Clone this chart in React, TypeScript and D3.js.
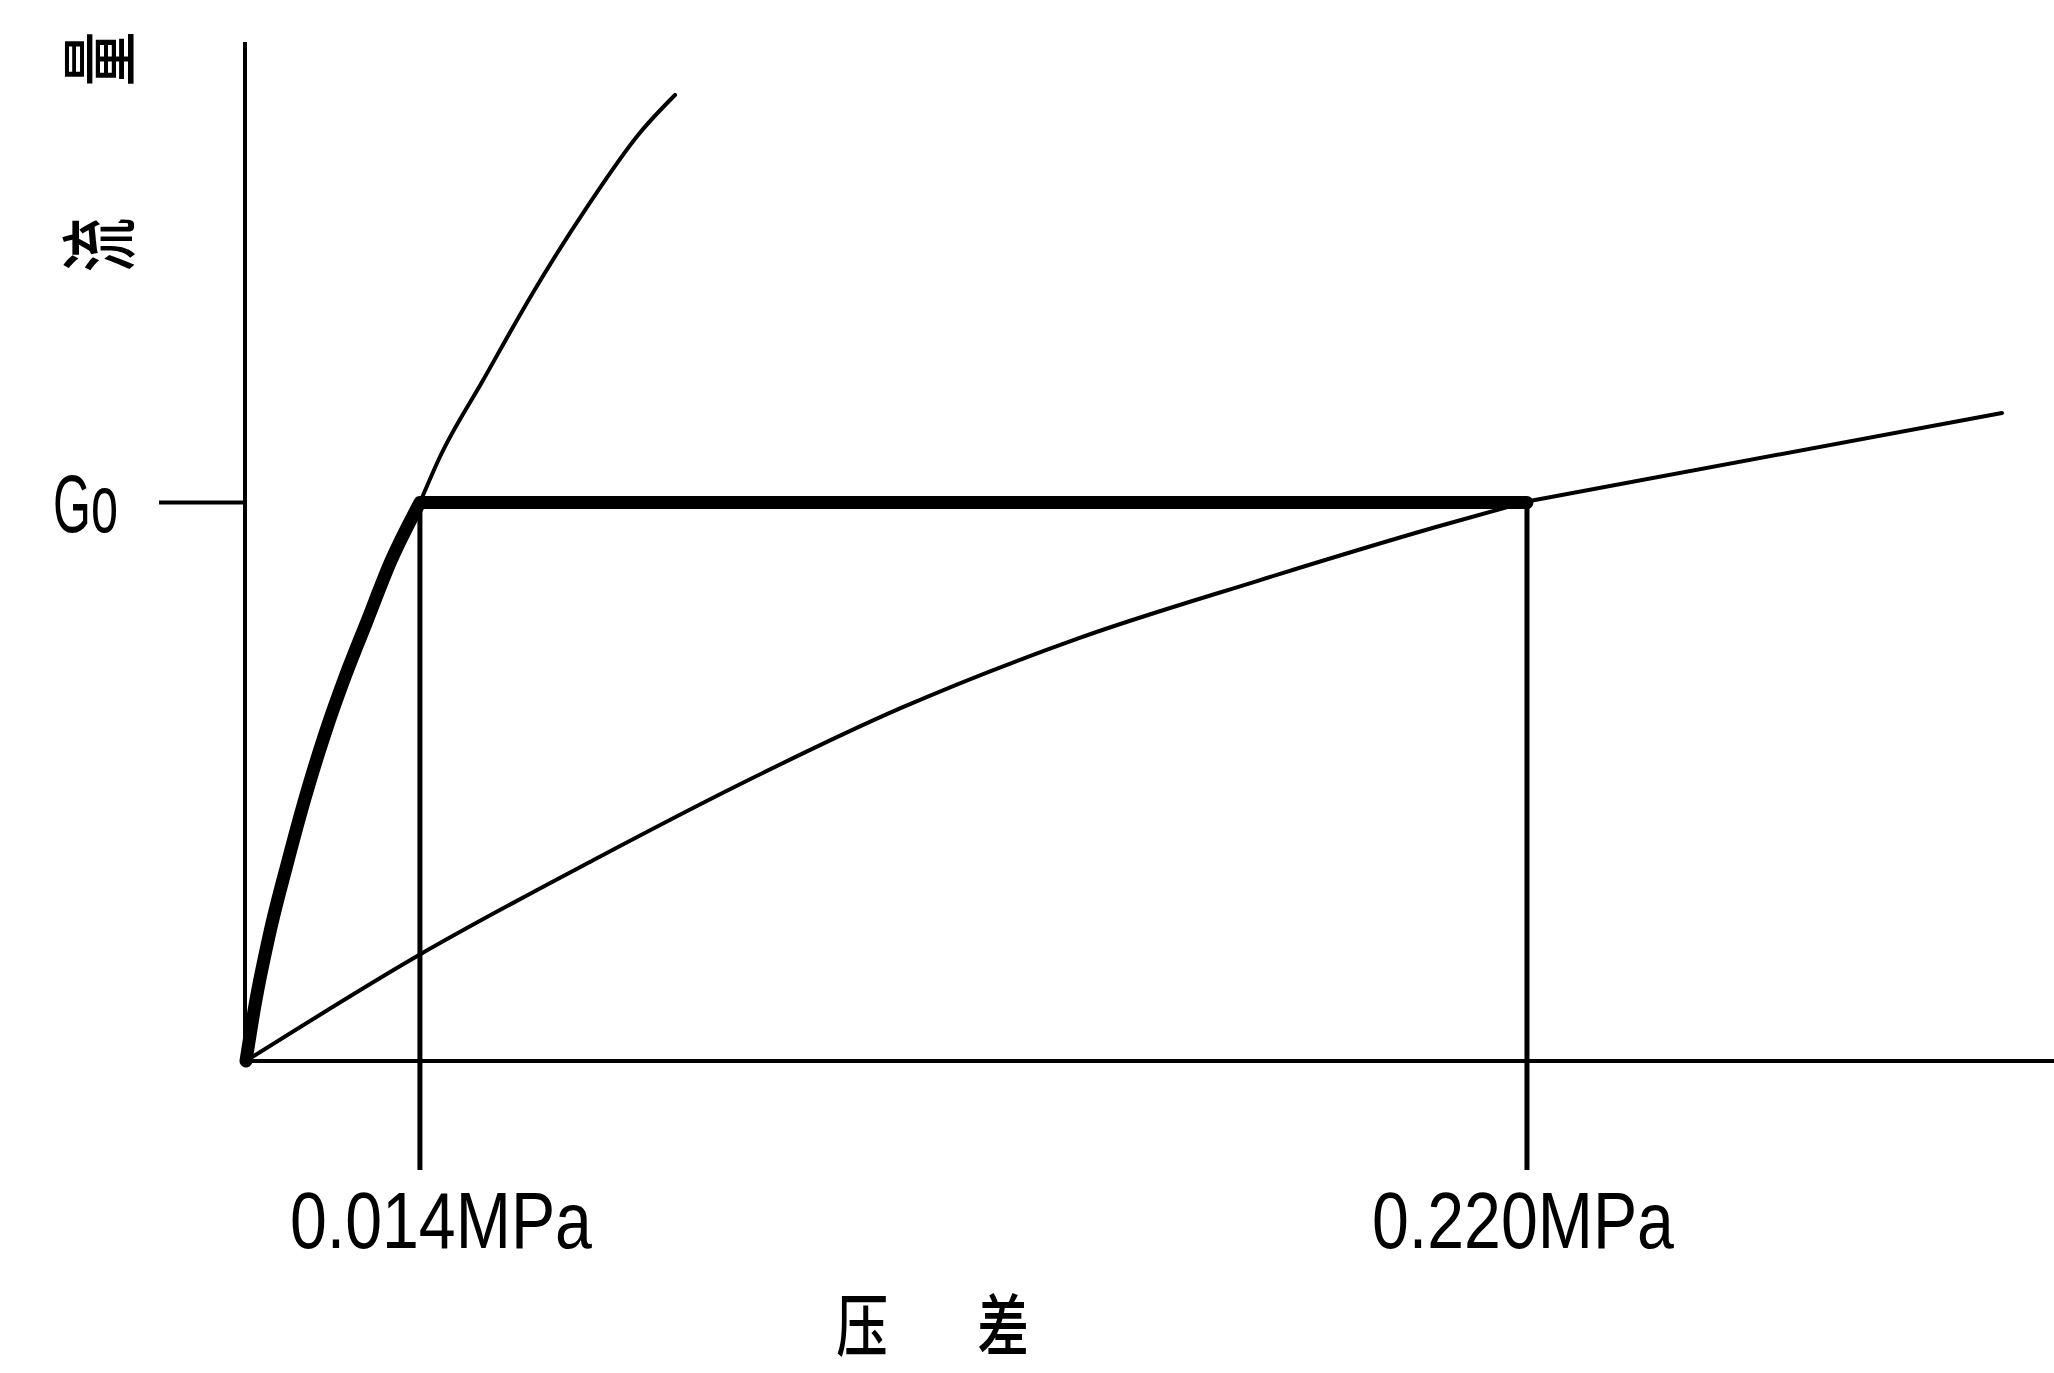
import React from 'react';
import * as d3 from 'd3';

// ---- Data (schematic units: x = pressure-difference axis 0..100, y = flow axis 0..100) ----
const G0 = 54.8; // design flow Go

// thick working curve (origin up to Go at 0.014 MPa)
const workCurve: [number, number][] = [
  [0, 0], [0.5, 5.5], [1.33, 12.7], [2.3, 19.5], [3.3, 26.0],
  [4.4, 32.3], [5.5, 37.8], [6.7, 43.2], [8.0, 49.0], [9.62, 54.8],
];

// thin continuation of the steep curve above Go
const steepCurve: [number, number][] = [
  [9.62, 54.8], [10.73, 59.3], [13.11, 66.8], [15.87, 75.4],
  [18.86, 83.8], [21.79, 91.1], [23.73, 94.8],
];

// flat (lower) curve reaching Go at 0.220 MPa
const flatCurve: [number, number][] = [
  [0, 0], [9.57, 10.4], [19.41, 19.9], [27.82, 27.6], [36.17, 34.6],
  [46.07, 41.5], [55.92, 47.1], [65.82, 52.4], [70.85, 54.9],
];
const flatTail: [number, number][] = [[70.85, 54.9], [97.12, 63.6]];

const tickValues = [9.62, 70.85];
const tickLabels = ['0.014MPa', '0.220MPa'];
const tickBottom = -10.7; // drop lines extend below the x axis to here

const yLabelChars = ['流', '量'];
const xLabelChars = ['压', '差'];

// ---- Layout ----
const W = 2054;
const H = 1373;
const x = d3.scaleLinear().domain([0, 100]).range([246, 2054]);
const y = d3.scaleLinear().domain([0, 100]).range([1061, 42]);

const line = d3
  .line<[number, number]>()
  .x((d) => x(d[0]))
  .y((d) => y(d[1]))
  .curve(d3.curveMonotoneX);
const straight = d3
  .line<[number, number]>()
  .x((d) => x(d[0]))
  .y((d) => y(d[1]));

const labelDx = [21, -4];
const labelWidth = 302;

export default function App() {
  const thinW = 4;
  const thickPath = line(workCurve)! + 'L' + x(tickValues[1]) + ',' + y(G0);
  return (
    <svg
      width={W}
      height={H}
      viewBox={`0 0 ${W} ${H}`}
      style={{ position: 'absolute', left: 0, top: 0, background: '#fff' }}
    >
      <rect x={0} y={0} width={W} height={H} fill="#fff" />
      {/* axes */}
      <line x1={x(0) - 1} x2={x(0) - 1} y1={y(100)} y2={y(0)} stroke="#000" strokeWidth={4} />
      <line x1={x(0)} x2={x(100)} y1={y(0)} y2={y(0)} stroke="#000" strokeWidth={4} />
      {/* Go tick */}
      <line x1={x(0) - 87} x2={x(0)} y1={y(G0)} y2={y(G0)} stroke="#000" strokeWidth={4} />
      {/* drop lines */}
      {tickValues.map((v, i) => (
        <line key={i} x1={x(v)} x2={x(v)} y1={y(G0)} y2={y(tickBottom)} stroke="#000" strokeWidth={5} />
      ))}
      {/* curves */}
      <path d={line(steepCurve)!} fill="none" stroke="#000" strokeWidth={thinW} strokeLinecap="round" />
      <path d={line(flatCurve)!} fill="none" stroke="#000" strokeWidth={thinW} strokeLinecap="round" />
      <path d={straight(flatTail)!} fill="none" stroke="#000" strokeWidth={thinW} strokeLinecap="round" />
      <path
        d={thickPath}
        fill="none"
        stroke="#000"
        strokeWidth={13}
        strokeLinecap="round"
        strokeLinejoin="round"
      />
      {/* Go label */}
      <text
        x={53}
        y={y(G0) + 29}
        fontFamily="'Liberation Sans', Arial, sans-serif"
        fontSize={82}
        textLength={65}
        lengthAdjust="spacingAndGlyphs"
        fill="#000"
      >
        Go
      </text>
      {/* tick labels */}
      {tickValues.map((v, i) => (
        <text
          key={i}
          x={x(v) + labelDx[i] - labelWidth / 2}
          y={1248}
          fontFamily="'Liberation Sans', Arial, sans-serif"
          fontSize={80}
          textLength={labelWidth}
          lengthAdjust="spacingAndGlyphs"
          fill="#000"
        >
          {tickLabels[i]}
        </text>
      ))}
      {/* y axis title (rotated, reads bottom to top) */}
      {yLabelChars.map((c, i) => (
        <text
          key={i}
          transform={`translate(95, ${[245, 59][i]}) rotate(-90) scale(0.7, 1)`}
          textAnchor="middle"
          dominantBaseline="central"
          fontFamily="'Noto Sans CJK SC', sans-serif"
          fontWeight={500}
          fontSize={78}
          fill="#000"
        >
          {c}
        </text>
      ))}
      {/* x axis title */}
      {xLabelChars.map((c, i) => (
        <text
          key={i}
          transform={`translate(${[862, 1003][i]}, 1351) scale(0.76, 1)`}
          textAnchor="middle"
          fontFamily="'Noto Sans CJK SC', sans-serif"
          fontWeight={500}
          fontSize={68}
          fill="#000"
        >
          {c}
        </text>
      ))}
    </svg>
  );
}
